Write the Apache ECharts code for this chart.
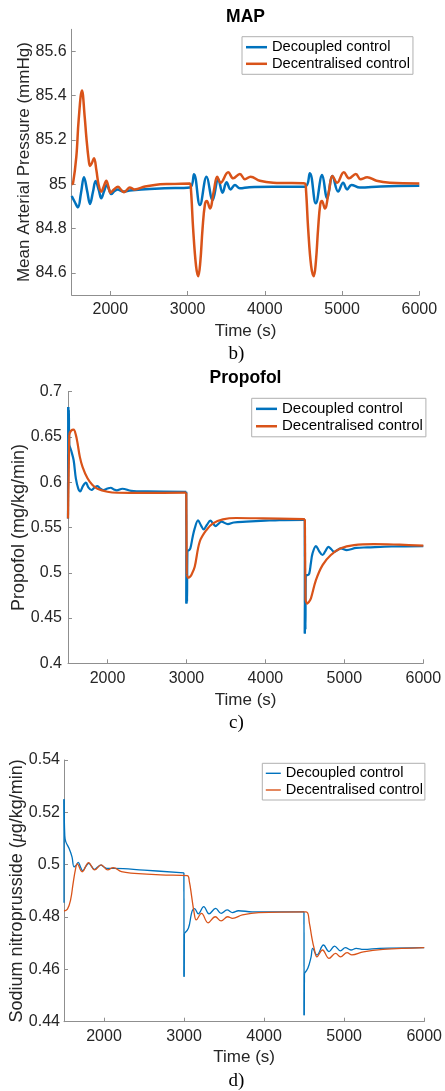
<!DOCTYPE html>
<html><head><meta charset="utf-8">
<script src="https://cdn.jsdelivr.net/npm/echarts@6/dist/echarts.min.js"></script>
<style>html,body{margin:0;padding:0;background:#fff}#c{width:445px;height:1091px}</style>
</head><body><div id="c"></div><script>
// ---------- data ----------
const seriesNames = ['Decoupled control', 'Decentralised control'];
const xTicks = [2000, 3000, 4000, 5000, 6000];
const mapTicks = [84.6, 84.8, 85, 85.2, 85.4, 85.6];

// MAP (mmHg) [time s, value]
const mapDecoupled = [[
 [1500,84.947],[1540,84.92],[1581,84.896],[1620,84.96],[1659,85.032],[1700,84.97],[1737,84.911],[1775,84.965],[1810,85.015],[1850,84.975],[1883,84.937],[1920,84.97],[1953,84.997],[1985,84.975],[2012,84.956],[2055,84.97],[2099,84.977],[2140,84.97],[2177,84.967],[2250,84.972],[2400,84.977],[2700,84.982],[3030,84.986],[3083,85.045],[3160,84.906],[3246,85.034],[3324,84.929],[3397,85.023],[3453,84.962],[3505,85.009],[3557,84.977],[3613,84.997],[3677,84.982],[3800,84.987],[4100,84.989],[4519,84.989],[4583,85.05],[4660,84.914],[4742,85.042],[4807,84.937],[4876,85.038],[4949,84.967],[5014,85.007],[5066,84.977],[5122,84.997],[5230,84.985],[5500,84.99],[6000,84.993]
]];
const mapDecentralised = [[
 [1500,85.0],[1517,85.004],[1560,85.125],[1590,85.29],[1633,85.424],[1668,85.306],[1689,85.215],[1720,85.11],[1737,85.083],[1760,85.095],[1789,85.118],[1819,85.065],[1849,84.997],[1883,84.967],[1915,84.99],[1948,85.016],[1975,84.99],[2004,84.962],[2050,84.978],[2099,84.989],[2140,84.975],[2177,84.964],[2215,84.975],[2250,84.986],[2315,84.977],[2450,84.99],[2574,84.997],[2746,85.001],[3030,85.004],[3045,84.97],[3072,84.8],[3110,84.63],[3138,84.585],[3165,84.65],[3194,84.8],[3225,84.91],[3250,84.925],[3289,84.891],[3340,84.97],[3384,85.034],[3428,85.007],[3526,85.054],[3591,85.027],[3677,85.047],[3742,85.023],[3816,85.034],[3936,85.016],[4108,85.007],[4519,85.004],[4534,84.97],[4561,84.8],[4600,84.63],[4634,84.585],[4661,84.65],[4690,84.8],[4718,84.91],[4740,84.925],[4777,84.891],[4830,84.97],[4876,85.038],[4936,85.007],[5023,85.054],[5092,85.027],[5178,85.047],[5239,85.023],[5325,85.032],[5446,85.016],[5618,85.007],[6000,85.004]
]];

// Propofol (mg/kg/min), pieces split at the step jumps
const propDecoupled = [
 [[1500,0.56],[1503,0.683]],
 [[1503,0.683],[1507,0.648],[1511,0.68],[1516,0.642],[1540,0.635],[1571,0.6245],[1600,0.604],[1630,0.593],[1655,0.59],[1690,0.596],[1727,0.5995],[1760,0.594],[1798,0.5914],[1835,0.594],[1873,0.5958],[1910,0.593],[1949,0.5914],[2000,0.593],[2042,0.5939],[2080,0.592],[2118,0.591],[2189,0.5928],[2300,0.5905],[2500,0.5898],[2998,0.5895]],
 [[2998,0.5895],[3000,0.466]],
 [[3000,0.466],[3004,0.52],[3008,0.468],[3013,0.524],[3034,0.525],[3050,0.527],[3080,0.54],[3105,0.549],[3147,0.558],[3180,0.553],[3219,0.548],[3260,0.553],[3303,0.5575],[3340,0.554],[3370,0.5516],[3405,0.554],[3442,0.5564],[3525,0.5538],[3600,0.5555],[3757,0.5564],[4000,0.5575],[4177,0.5582],[4498,0.5585]],
 [[4498,0.5585],[4500,0.433]],
 [[4500,0.433],[4504,0.495],[4508,0.437],[4513,0.4975],[4534,0.4975],[4555,0.499],[4575,0.51],[4597,0.5214],[4640,0.5295],[4680,0.524],[4724,0.5196],[4760,0.524],[4799,0.5287],[4835,0.526],[4871,0.5232],[4955,0.527],[5031,0.5251],[5150,0.5275],[5291,0.528],[5600,0.529],[6000,0.5295]]
];
const propDecentralised = [
 [[1500,0.56],[1516,0.653]],
 [[1516,0.653],[1540,0.657],[1571,0.658],[1600,0.652],[1621,0.643],[1650,0.628],[1684,0.617],[1747,0.6043],[1810,0.5969],[1873,0.5928],[1999,0.5895],[2125,0.5884],[2500,0.5882],[2998,0.5885]],
 [[2998,0.5885],[3004,0.498]],
 [[3004,0.498],[3025,0.4945],[3045,0.4955],[3070,0.499],[3105,0.5066],[3168,0.5343],[3253,0.5472],[3336,0.5546],[3462,0.559],[3631,0.5605],[3967,0.5601],[4500,0.5592]],
 [[4500,0.5592],[4508,0.47]],
 [[4508,0.47],[4530,0.466],[4550,0.4675],[4577,0.4717],[4640,0.4919],[4724,0.5085],[4829,0.5196],[4955,0.527],[5123,0.5306],[5375,0.5317],[5700,0.531],[6000,0.530]]
];

// Sodium nitroprusside (ug/kg/min)
const snpDecoupled = [
 [[1500,0.4855],[1500,0.525]],
 [[1500,0.525],[1510,0.511],[1522,0.5088],[1564,0.5062],[1600,0.503],[1625,0.4992],[1650,0.4997],[1678,0.5009],[1705,0.4992],[1735,0.4977],[1770,0.4992],[1809,0.5005],[1845,0.4993],[1882,0.4982],[1920,0.4991],[1963,0.4998],[2000,0.4991],[2033,0.4986],[2135,0.4986],[2500,0.4979],[2998,0.4969]],
 [[2998,0.4969],[3000,0.4572]],
 [[3000,0.4572],[3003,0.4737]],
 [[3003,0.4737],[3054,0.4757],[3090,0.481],[3107,0.4827],[3130,0.4832],[3177,0.4812],[3246,0.484],[3312,0.4812],[3394,0.4833],[3463,0.4814],[3537,0.4827],[3606,0.4817],[3679,0.4824],[3851,0.482],[4498,0.482]],
 [[4498,0.482],[4500,0.4425]],
 [[4500,0.4425],[4504,0.4585]],
 [[4504,0.4585],[4546,0.4604],[4587,0.4648],[4607,0.468],[4660,0.4655],[4742,0.4693],[4811,0.4668],[4880,0.4689],[4954,0.4671],[5015,0.4683],[5085,0.4674],[5150,0.468],[5240,0.4676],[5444,0.468],[6000,0.4683]]
];
const snpDecentralised = [[
 [1500,0.4823],[1543,0.483],[1584,0.4868],[1612,0.4925],[1645,0.4985],[1665,0.5003],[1727,0.4973],[1808,0.5008],[1882,0.498],[1964,0.4999],[2046,0.498],[2115,0.4989],[2217,0.4973],[2380,0.4967],[2707,0.4961],[3040,0.4958],[3066,0.4935],[3095,0.4878],[3124,0.482],[3152,0.4789],[3218,0.4814],[3300,0.4778],[3390,0.4801],[3463,0.4785],[3545,0.4801],[3606,0.4795],[3729,0.4808],[3933,0.4817],[4525,0.482],[4566,0.4776],[4594,0.4725],[4625,0.468],[4660,0.4648],[4729,0.4674],[4811,0.4642],[4893,0.4661],[4954,0.4648],[5036,0.4664],[5097,0.4655],[5240,0.4667],[5485,0.4676],[6000,0.4683]
]];

// ---------- styling ----------
const FONT = '"Liberation Sans", Arial, Helvetica, sans-serif';
const SERIF = '"Liberation Serif", "Times New Roman", serif';
const TXT = '#262626';
const AX = '#8f8f8f';
const BLUE = '#0072BD', ORANGE = '#D95319';
const plain = v => String(+v.toFixed(6));

function xAxisCfg(gi, nameGap) {
  return {type:'value', gridIndex:gi, min:1500, max:6000,
    name:'Time (s)', nameLocation:'middle', nameGap, nameMoveOverlap:false,
    nameTextStyle:{fontSize:17, color:TXT, fontFamily:FONT},
    axisLine:{show:true, onZero:false, lineStyle:{color:AX, width:1}},
    axisTick:{show:true, inside:true, length:4, customValues:xTicks, lineStyle:{color:AX}},
    axisLabel:{customValues:xTicks, formatter:plain, fontSize:16, color:TXT, fontFamily:FONT, margin:7},
    splitLine:{show:false}};
}
function yAxisCfg(gi, extra) {
  return Object.assign({type:'value', gridIndex:gi, nameLocation:'middle', nameMoveOverlap:false,
    nameTextStyle:{fontSize:17, color:TXT, fontFamily:FONT},
    axisLine:{show:true, lineStyle:{color:AX, width:1}},
    axisTick:{show:true, inside:true, length:4, lineStyle:{color:AX}},
    axisLabel:{formatter:plain, fontSize:16, color:TXT, fontFamily:FONT, margin:5},
    splitLine:{show:false}}, extra);
}
function pieces(segs, name, color, width, gi, smooth) {
  return segs.map(s => ({type:'line', name, xAxisIndex:gi, yAxisIndex:gi, data:s,
    symbol:'none', showSymbol:false, smooth: s.length > 2 ? smooth : false,
    lineStyle:{color, width}, itemStyle:{color}, animation:false, silent:true}));
}
function legendCfg(gi, left, top, fs, lh, gap, iw, ih, pad) {
  return {orient:'vertical', left, top, data:seriesNames, icon:'rect',
    itemWidth:iw, itemHeight:ih, itemGap:gap, padding:pad,
    backgroundColor:'#fff', borderColor:'#b0b0b0', borderWidth:1,
    textStyle:{fontSize:fs, lineHeight:lh, color:'#000', fontFamily:FONT},
    selectedMode:false};
}

const chart = echarts.init(document.getElementById('c'), null, {renderer:'canvas'});
chart.setOption({
  backgroundColor:'#fff',
  animation:false,
  grid:[
    {left:71.7, top:29.3, width:347.6, height:265.7, containLabel:false},
    {left:68, top:391.7, width:355.3, height:271.6, containLabel:false},
    {left:61.6, top:760, width:366.1, height:261.7, containLabel:false}
  ],
  xAxis:[xAxisCfg(0, 28), xAxisCfg(1, 29), xAxisCfg(2, 27)],
  yAxis:[
    yAxisCfg(0, {min:84.5, max:85.7, name:'Mean Arterial Pressure (mmHg)', nameGap:39,
      axisTick:{show:true, inside:true, length:4, customValues:mapTicks, lineStyle:{color:AX}},
      axisLabel:{customValues:mapTicks, formatter:plain, fontSize:16, color:TXT, fontFamily:FONT, margin:5}}),
    yAxisCfg(1, {min:0.4, max:0.7, interval:0.05, name:'Propofol (mg/kg/min)', nameGap:40,
      nameTextStyle:{fontSize:18, color:TXT, fontFamily:FONT}, axisLabel:{formatter:plain, fontSize:16, color:TXT, fontFamily:FONT, margin:6}}),
    yAxisCfg(2, {min:0.44, max:0.54, interval:0.02, nameGap:38,
      name:'{a|Sodium nitroprusside (}{b|μ}{a|g/kg/min)}',
      nameTextStyle:{fontSize:18, color:TXT, fontFamily:FONT,
        rich:{a:{fontSize:18, color:TXT, fontFamily:FONT}, b:{fontSize:18, color:TXT, fontFamily:SERIF, fontStyle:'italic'}}},
      axisLabel:{formatter:plain, fontSize:16, color:TXT, fontFamily:FONT, margin:4}})
  ],
  legend:[
    legendCfg(0, 242, 36.7, 14.7, 15, 1.6, 21, 2.5, [3,3,3,4]),
    legendCfg(1, 251.7, 398.3, 15, 15.5, 1.9, 21, 2.5, [2.8,3,2.8,4.3]),
    legendCfg(2, 262.3, 763.3, 14.6, 15, 1.7, 15, 1.4, [2.5,2,2.5,3.5])
  ],
  graphic:[
    {type:'text', x:245.5, y:17, style:{text:'MAP', font:'bold 17.5px ' + FONT, fill:'#000', align:'center', verticalAlign:'middle'}},
    {type:'text', x:245.5, y:378.5, style:{text:'Propofol', font:'bold 17.5px ' + FONT, fill:'#000', align:'center', verticalAlign:'middle'}},
    {type:'text', x:236.5, y:354, style:{text:'b)', font:'19px ' + SERIF, fill:'#000', align:'center', verticalAlign:'middle'}},
    {type:'text', x:236.5, y:723, style:{text:'c)', font:'19px ' + SERIF, fill:'#000', align:'center', verticalAlign:'middle'}},
    {type:'text', x:236.5, y:1081, style:{text:'d)', font:'19px ' + SERIF, fill:'#000', align:'center', verticalAlign:'middle'}}
  ],
  series:[].concat(
    pieces(mapDecoupled, seriesNames[0], BLUE, 2.5, 0, 0.4),
    pieces(mapDecentralised, seriesNames[1], ORANGE, 2.5, 0, 0.4),
    pieces(propDecoupled, seriesNames[0], BLUE, 2.2, 1, 0.35),
    pieces(propDecentralised, seriesNames[1], ORANGE, 2.2, 1, 0.35),
    pieces(snpDecoupled, seriesNames[0], BLUE, 1.3, 2, 0.4),
    pieces(snpDecentralised, seriesNames[1], ORANGE, 1.3, 2, 0.4)
  )
});
</script></body></html>
